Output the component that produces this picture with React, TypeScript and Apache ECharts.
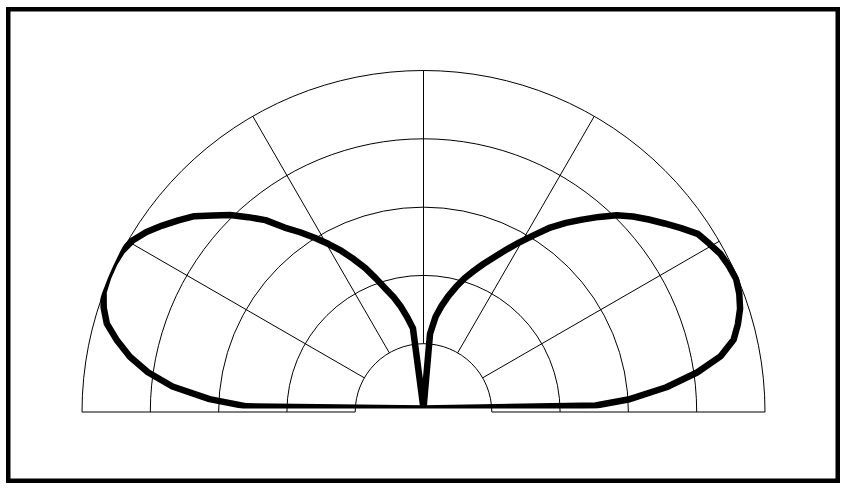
import React, { useEffect, useRef } from "react";
import * as echarts from "echarts";

// Right lobe (0° .. 90°): angle in degrees, radius normalised to the outer ring
const rightLobeAngles = [0, 1, 2.5, 5, 7.5, 10, 12.5, 15, 17.5, 20, 22.5, 25, 27.5, 30, 32.5, 35, 37.5, 40, 42.5, 45, 47.5, 50, 52.5, 55, 57.5, 60, 62.5, 65, 67.5, 70, 72.5, 75, 77.5, 80, 82.5, 85, 90];
const rightLobeRadii = [0, 0.504, 0.6, 0.714, 0.808, 0.884, 0.93, 0.953, 0.972, 0.984, 0.991, 0.987, 0.98, 0.966, 0.952, 0.921, 0.89, 0.861, 0.832, 0.8, 0.761, 0.722, 0.685, 0.647, 0.602, 0.562, 0.524, 0.489, 0.458, 0.428, 0.4, 0.369, 0.338, 0.305, 0.271, 0.22, 0];

// Left lobe (90° .. 180°)
const leftLobeAngles = [97.5, 100, 102.5, 105, 107.5, 110, 112.5, 115, 117.5, 120, 122.5, 125, 127.5, 130, 132.5, 135, 137.5, 140, 142.5, 145, 147.5, 150, 152.5, 155, 157.5, 160, 162.5, 165, 167.5, 170, 172.5, 175, 177.5, 179.3, 180];
const leftLobeRadii = [0.237, 0.27, 0.305, 0.337, 0.367, 0.404, 0.445, 0.482, 0.52, 0.556, 0.593, 0.63, 0.668, 0.72, 0.76, 0.801, 0.836, 0.876, 0.905, 0.934, 0.962, 0.984, 0.996, 1.0, 1.0, 0.997, 0.982, 0.96, 0.919, 0.873, 0.814, 0.738, 0.627, 0.518, 0];

// Grid ticks
const angleTicks = { min: 0, max: 180, interval: 30 };
const radiusTicks = { min: 0, max: 1, interval: 0.2 };

export default function App() {
  const ref = useRef<HTMLDivElement>(null);

  useEffect(() => {
    if (!ref.current) return;
    const chart = echarts.init(ref.current, null, { renderer: "svg" });

    const data = [
      ...rightLobeAngles.map((a, i) => [rightLobeRadii[i], a]),
      ...leftLobeAngles.map((a, i) => [leftLobeRadii[i], a]),
    ];

    const cx = 423.5;
    const cy = 412;
    const R = 341.5;

    const hidden = {
      axisLine: { show: false },
      axisTick: { show: false },
      axisLabel: { show: false },
    };

    const angleBase = {
      type: "value",
      min: angleTicks.min,
      max: angleTicks.max,
      interval: angleTicks.interval,
      startAngle: 0,
      endAngle: 180,
      clockwise: false,
      ...hidden,
    };

    const radiusBase = {
      type: "value",
      min: radiusTicks.min,
      max: radiusTicks.max,
      interval: radiusTicks.interval,
      ...hidden,
    };

    chart.setOption({
      animation: false,
      backgroundColor: "#fff",
      polar: [
        { center: [cx, cy], radius: [0, R] },
        { center: [cx, cy], radius: [R / 5, R] },
        { center: [cx, cy - 3.5], radius: [0, R] },
      ],
      angleAxis: [
        { ...angleBase, polarIndex: 0, splitLine: { show: false } },
        { ...angleBase, polarIndex: 1, splitLine: { show: true, lineStyle: { color: "#000", width: 1 } } },
        { ...angleBase, polarIndex: 2, splitLine: { show: false } },
      ],
      radiusAxis: [
        { ...radiusBase, polarIndex: 0, splitLine: { show: true, lineStyle: { color: "#000", width: 1 } } },
        { ...radiusBase, polarIndex: 1, splitLine: { show: false } },
        { ...radiusBase, polarIndex: 2, splitLine: { show: false } },
      ],
      series: [
        {
          type: "line",
          coordinateSystem: "polar",
          polarIndex: 2,
          data,
          showSymbol: false,
          symbol: "none",
          smooth: false,
          clip: false,
          lineStyle: { color: "#000", width: 6.5, join: "round", cap: "round" },
        },
      ],
      graphic: [
        {
          type: "rect",
          shape: { x: 8.25, y: 9.25, width: 829.5, height: 471.5 },
          style: { fill: "none", stroke: "#000", lineWidth: 4.5 },
          z: 100,
        },
      ],
    });

    return () => chart.dispose();
  }, []);

  return (
    <div
      ref={ref}
      style={{ position: "fixed", left: 0, top: 0, width: 846, height: 490, background: "#fff" }}
    />
  );
}
